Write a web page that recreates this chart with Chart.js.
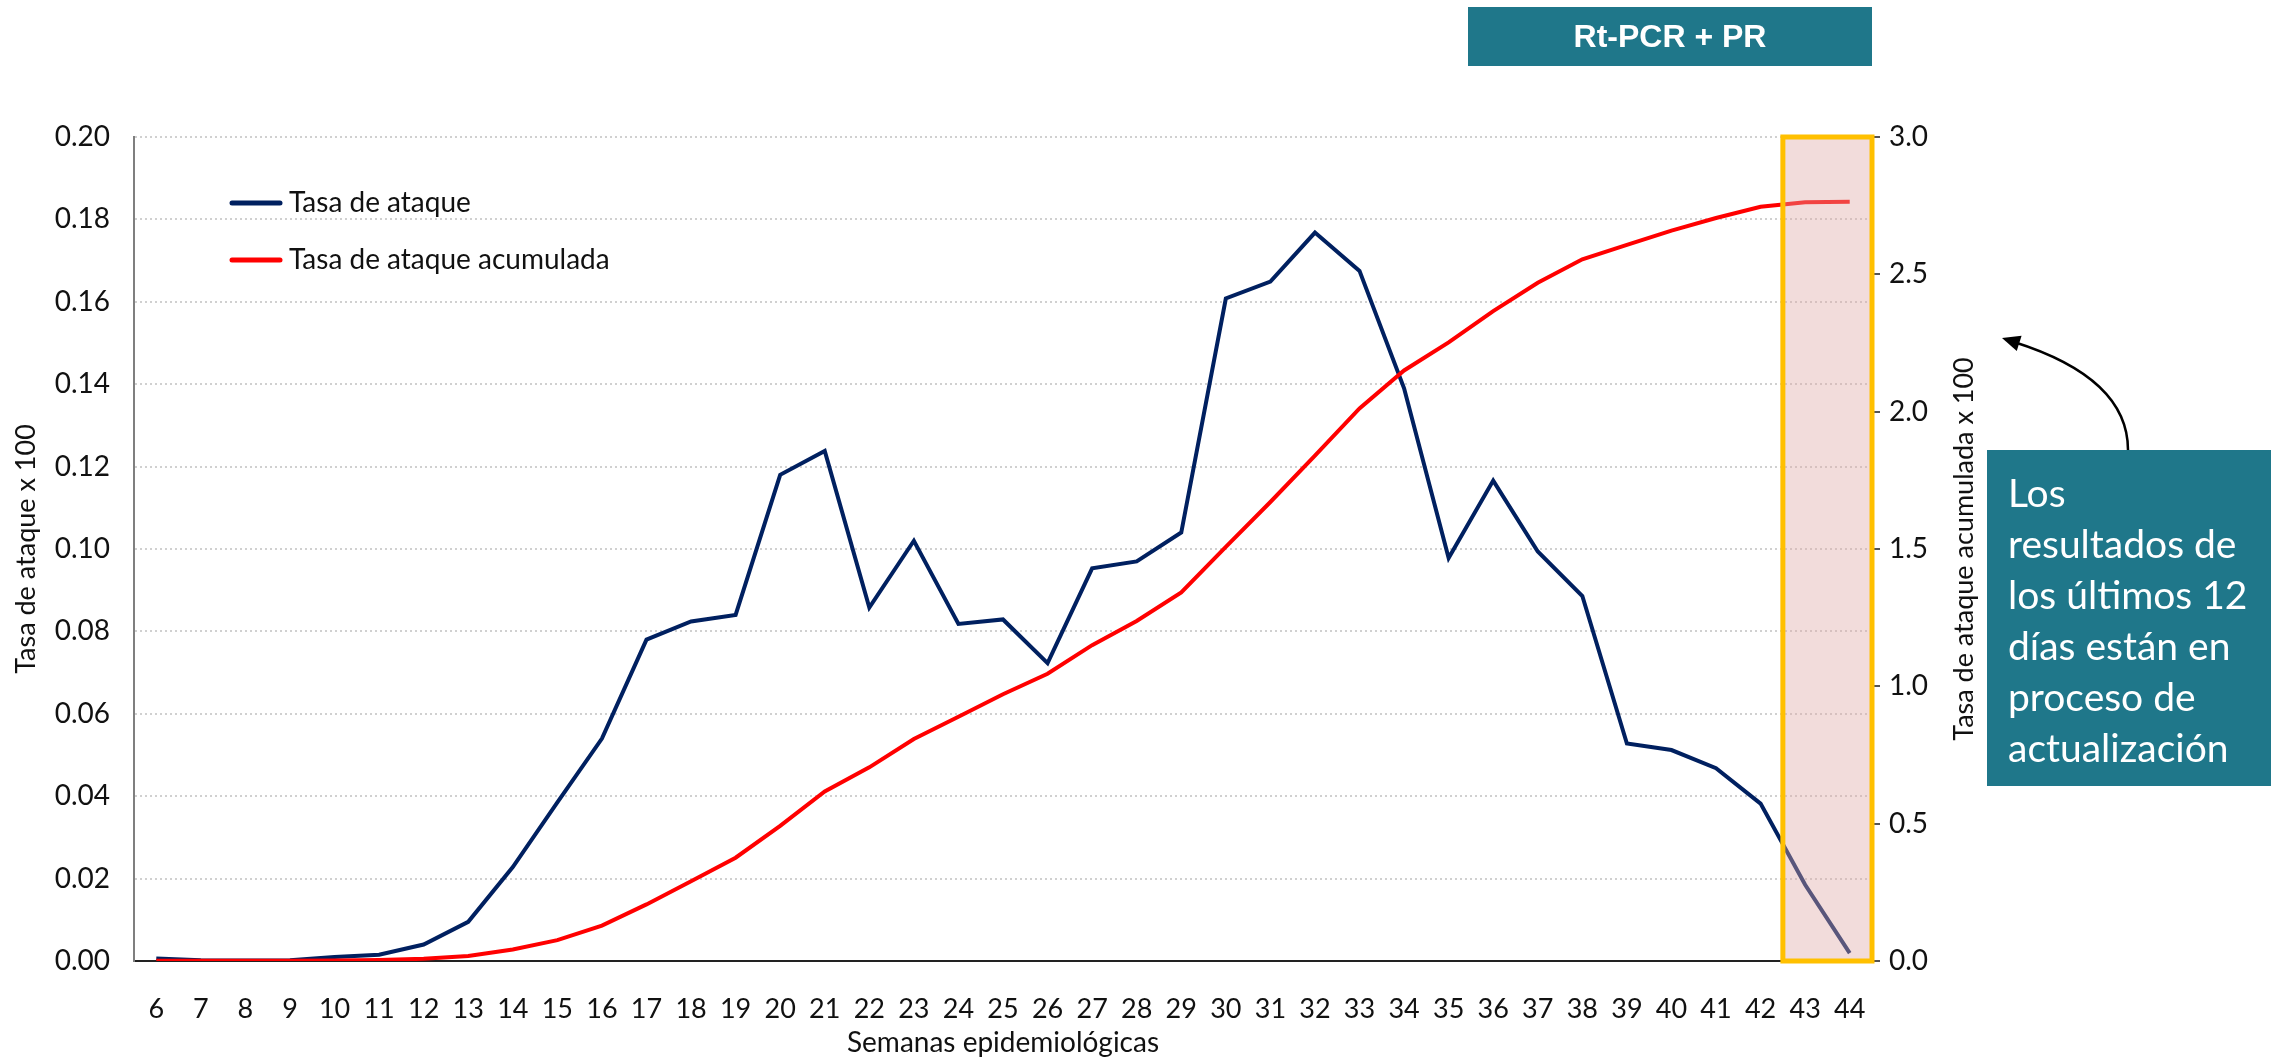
<!DOCTYPE html>
<html>
<head>
<meta charset="utf-8">
<script src="https://cdn.jsdelivr.net/npm/chart.js@4.4.0/dist/chart.umd.min.js"></script>
<style>
  html, body { margin: 0; padding: 0; background: #fff; }
  #wrap { width: 2278px; height: 1061px; }
</style>
</head>
<body>
<div id="wrap"><canvas id="canvas1" width="2278" height="1061"></canvas></div>
<script>
var semanas = ['6', '7', '8', '9', '10', '11', '12', '13', '14', '15', '16', '17', '18', '19',
  '20', '21', '22', '23', '24', '25', '26', '27', '28', '29', '30', '31', '32', '33', '34',
  '35', '36', '37', '38', '39', '40', '41', '42', '43', '44'];

// Tasa de ataque x 100 (eje izquierdo)
var tasaAtaque = [0.0006, 0.0002, 0.0001, 0.0002, 0.001, 0.0015, 0.004, 0.0095, 0.0228, 0.0385,
  0.054, 0.078, 0.0824, 0.084, 0.118, 0.1238, 0.0858, 0.102, 0.0818, 0.0829,
  0.0723, 0.0953, 0.097, 0.104, 0.1608, 0.1649, 0.1768, 0.1675, 0.139, 0.0978,
  0.1166, 0.0994, 0.0886, 0.0528, 0.0512, 0.0468, 0.0382, 0.0185, 0.0019];

// Tasa de ataque acumulada x 100 (eje derecho)
var tasaAcumulada = [0.001, 0.001, 0.001, 0.001, 0.002, 0.004, 0.008, 0.018, 0.042, 0.076,
  0.129, 0.206, 0.29, 0.376, 0.492, 0.617, 0.705, 0.808, 0.889, 0.971,
  1.046, 1.15, 1.238, 1.342, 1.508, 1.671, 1.84, 2.012, 2.15, 2.252,
  2.366, 2.469, 2.555, 2.607, 2.659, 2.705, 2.746, 2.762, 2.764];

var semanaActualizacion = '43';
var notaLineas = ['Los', 'resultados de', 'los últimos 12', 'días están en', 'proceso de', 'actualización'];

var TEAL = '#1f778a';
var TEXTO = '#111111';

// recuadro de semanas en actualización, dibujado sobre las líneas
var recuadro = {
  id: 'recuadro',
  afterDatasetsDraw: function(chart) {
    var ctx = chart.ctx, area = chart.chartArea;
    var x0 = chart.scales.x.getPixelForValue(semanas.indexOf(semanaActualizacion) - 0.5);
    ctx.save();
    ctx.fillStyle = 'rgba(222,167,165,0.4)';
    ctx.fillRect(x0, area.top, area.right - x0, area.bottom - area.top);
    ctx.strokeStyle = '#ffc000';
    ctx.lineWidth = 5;
    ctx.strokeRect(x0, area.top, area.right - x0, area.bottom - area.top);
    ctx.restore();
  }
};

// leyenda, título del eje derecho y notas
var extras = {
  id: 'extras',
  afterDraw: function(chart) {
    var ctx = chart.ctx, area = chart.chartArea;
    ctx.save();

    // leyenda dentro del área
    chart.data.datasets.forEach(function(ds, i) {
      var y = area.top + 66 + i * 57;
      var x = area.left + 98;
      ctx.strokeStyle = ds.borderColor;
      ctx.lineWidth = 5;
      ctx.lineCap = 'round';
      ctx.beginPath();
      ctx.moveTo(x, y);
      ctx.lineTo(x + 48, y);
      ctx.stroke();
      ctx.fillStyle = TEXTO;
      ctx.font = '28px Lato';
      ctx.textAlign = 'left';
      ctx.textBaseline = 'middle';
      ctx.fillText(ds.label, x + 57, y);
    });

    // título eje derecho
    ctx.save();
    ctx.translate(1964, (area.top + area.bottom) / 2);
    ctx.rotate(-Math.PI / 2);
    ctx.fillStyle = TEXTO;
    ctx.font = '27px Lato';
    ctx.textAlign = 'center';
    ctx.textBaseline = 'middle';
    ctx.fillText('Tasa de ataque acumulada x 100', 0, 0);
    ctx.restore();

    // caja superior
    ctx.fillStyle = TEAL;
    ctx.fillRect(1468, 7, 404, 59);
    ctx.fillStyle = '#ffffff';
    ctx.font = 'bold 32px "Liberation Sans"';
    ctx.textAlign = 'center';
    ctx.textBaseline = 'middle';
    ctx.fillText('Rt-PCR + PR', 1670, 38);

    // nota
    ctx.fillStyle = TEAL;
    ctx.fillRect(1987, 450, 284, 336);
    ctx.fillStyle = '#ffffff';
    ctx.font = '39px Lato';
    ctx.textAlign = 'left';
    notaLineas.forEach(function(t, i) {
      ctx.fillText(t, 2008, 494 + i * 51);
    });

    // flecha curva
    ctx.strokeStyle = '#000';
    ctx.lineWidth = 2.5;
    ctx.lineCap = 'butt';
    ctx.beginPath();
    ctx.moveTo(2128, 450);
    ctx.quadraticCurveTo(2128, 378, 2014, 342);
    ctx.stroke();
    var ang = Math.atan2(342 - 378, 2014 - 2128);
    var tx = 2002, ty = 338;
    ctx.fillStyle = '#000';
    ctx.beginPath();
    ctx.moveTo(tx, ty);
    ctx.lineTo(tx - 18 * Math.cos(ang) - 8 * Math.sin(ang), ty - 18 * Math.sin(ang) + 8 * Math.cos(ang));
    ctx.lineTo(tx - 18 * Math.cos(ang) + 8 * Math.sin(ang), ty - 18 * Math.sin(ang) - 8 * Math.cos(ang));
    ctx.closePath();
    ctx.fill();

    ctx.restore();
  }
};

function dibujar() {
  Chart.defaults.font.family = 'Lato';
  Chart.defaults.color = TEXTO;
  var ctx = document.getElementById('canvas1').getContext('2d');
  window.myLine = new Chart(ctx, {
    type: 'line',
    data: {
      labels: semanas,
      datasets: [{
        label: 'Tasa de ataque',
        data: tasaAtaque,
        yAxisID: 'y',
        borderColor: '#002060',
        backgroundColor: '#002060',
        borderWidth: 4,
        pointRadius: 0,
        tension: 0,
        order: 1
      }, {
        label: 'Tasa de ataque acumulada',
        data: tasaAcumulada,
        yAxisID: 'y1',
        borderColor: '#ff0000',
        backgroundColor: '#ff0000',
        borderWidth: 4,
        pointRadius: 0,
        tension: 0,
        order: 0
      }]
    },
    options: {
      responsive: false,
      animation: false,
      devicePixelRatio: 1,
      layout: { padding: { top: 137, left: 0, right: 0, bottom: 0 } },
      plugins: {
        legend: { display: false },
        tooltip: { enabled: false }
      },
      scales: {
        x: {
          offset: true,
          grid: { display: false },
          border: { display: true, color: '#222', width: 2 },
          ticks: { font: { size: 27 }, padding: 24, autoSkip: false, maxRotation: 0 },
          title: { display: true, text: 'Semanas epidemiológicas', font: { size: 28 }, padding: { top: 0, bottom: 1 } },
          afterFit: function(s) { s.height = 100; }
        },
        y: {
          position: 'left',
          min: 0,
          max: 0.2,
          ticks: { stepSize: 0.02, font: { size: 28 }, padding: 24, callback: function(v) { return v.toFixed(2); } },
          grid: { color: '#d0d0d0', lineWidth: 2, drawTicks: false },
          border: { color: '#7f7f7f', width: 2, dash: [2, 3] },
          title: { display: true, text: 'Tasa de ataque x 100', font: { size: 27 }, padding: { top: 10, bottom: 0 } },
          afterFit: function(s) { s.width = 134; }
        },
        y1: {
          position: 'right',
          min: 0,
          max: 3,
          ticks: { stepSize: 0.5, font: { size: 28 }, padding: 9, callback: function(v) { return v.toFixed(1); } },
          grid: { drawOnChartArea: false, drawTicks: true, tickLength: 8, color: '#555', lineWidth: 2 },
          border: { display: false },
          afterFit: function(s) { s.width = 406; }
        }
      }
    },
    plugins: [recuadro, extras]
  });
}

window.onload = function() {
  if (document.fonts && document.fonts.load) {
    Promise.all([document.fonts.load('28px Lato'), document.fonts.load('bold 32px "Liberation Sans"')])
      .then(dibujar, dibujar);
  } else {
    dibujar();
  }
};
</script>
</body>
</html>
